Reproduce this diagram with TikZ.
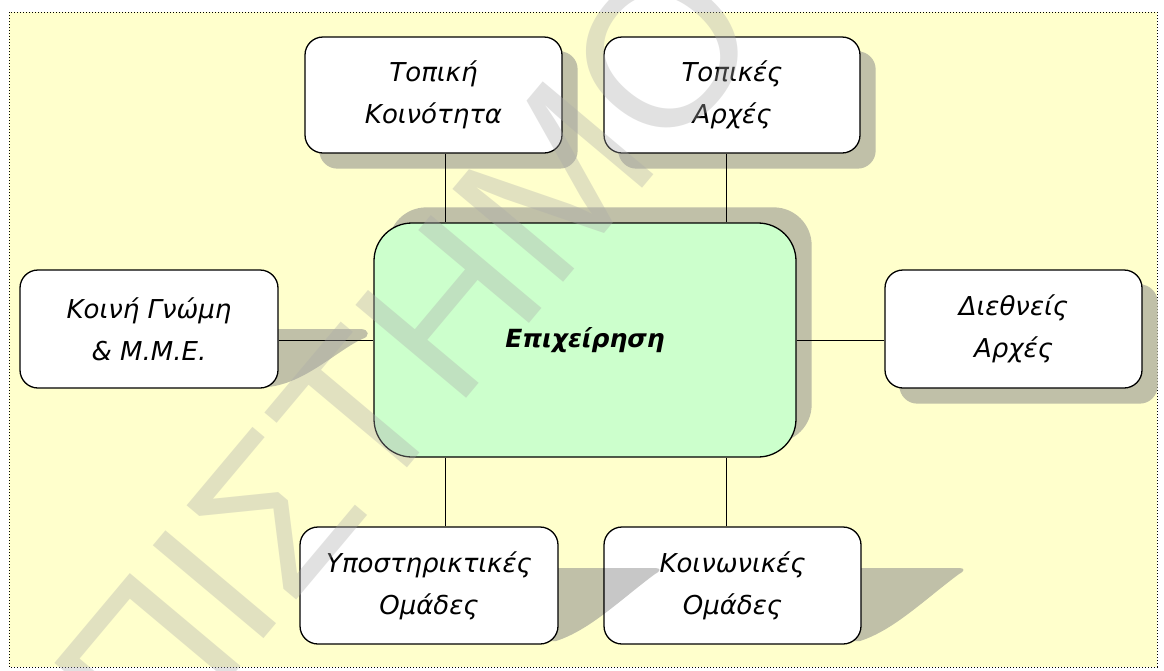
\documentclass[tikz,border=0pt]{standalone}
\usepackage{fontspec}
\setmainfont{DejaVu Sans}
\newfontfamily\wmfont{Liberation Sans}
\usetikzlibrary{backgrounds}
\definecolor{bgyellow}{RGB}{255,255,204}
\definecolor{maingreen}{RGB}{204,255,204}
\definecolor{shadowc}{RGB}{192,192,168}
\definecolor{wmgray}{RGB}{170,170,170}
\begin{document}
\begin{tikzpicture}[x=1pt,y=-1pt,
  box/.style={draw=black, line width=1.3pt, rounded corners=18pt, fill=white,
    align=center, font=\fontsize{26}{42}\selectfont\itshape, inner sep=0pt},
  mainbox/.style={box, fill=maingreen, rounded corners=38pt,
    font=\fontsize{25}{30}\selectfont\bfseries\itshape},
  shade/.style={fill=shadowc},
  link/.style={draw=black, line width=1pt},
  wm/.style={font=\wmfont\fontsize{210}{210}\selectfont,
    text=wmgray, text opacity=0.35}]
\useasboundingbox (0,0) rectangle (1164,670);
\begin{scope}[on background layer]
  \fill[white] (0,0) rectangle (1164,670);
  \draw[dotted, line width=1pt, fill=bgyellow] (9,12) rectangle (1157,667);
\end{scope}

% nodes
\node[mainbox, minimum width=422pt, minimum height=234pt] (main) at (585,340) {Επιχείρηση};
\node[box, minimum width=257pt, minimum height=116pt] (tk) at (433.5,95) {Τοπική\\Κοινότητα};
\node[box, minimum width=256pt, minimum height=116pt] (ta) at (732,95) {Τοπικές\\Αρχές};
\node[box, minimum width=258pt, minimum height=118pt] (lb) at (149,329) {Κοινή Γνώμη\\\& Μ.Μ.Ε.};
\node[box, minimum width=257pt, minimum height=118pt] (rb) at (1013.5,329) {Διεθνείς\\Αρχές};
\node[box, minimum width=258pt, minimum height=117pt] (bl) at (429,585.5) {Υποστηρικτικές\\Ομάδες};
\node[box, minimum width=257pt, minimum height=117pt] (br) at (732.5,585.5) {Κοινωνικές\\Ομάδες};

% shadows
\begin{scope}[on background layer]
  \fill[shade, rounded corners=18pt] ([shift={(15,15)}]tk.north west) rectangle ([shift={(15,15)}]tk.south east);
  \fill[shade, rounded corners=18pt] ([shift={(15,15)}]ta.north west) rectangle ([shift={(15,15)}]ta.south east);
  \fill[shade, rounded corners=18pt] ([shift={(15,15)}]rb.north west) rectangle ([shift={(15,15)}]rb.south east);
  \fill[shade, rounded corners=38pt] ([shift={(15,-15)}]main.north west) rectangle ([shift={(15,-15)}]main.south east);
  \fill[shade] (250,329) -- (360,329) .. controls (370,329) and (370,337) .. (362,339)
     .. controls (335,352) and (305,383) .. (268,387) -- (250,387) -- cycle;
  \fill[shade] (540,568) -- (655,568) .. controls (661,568) and (661,571) .. (655,574)
     .. controls (620,600) and (590,630) .. (556,641) -- (540,641) -- cycle;
  \fill[shade] (844,568) -- (959,568) .. controls (965,568) and (965,571) .. (959,574)
     .. controls (924,600) and (894,630) .. (860,641) -- (844,641) -- cycle;
\end{scope}
% shadow of bl falling over br
\begin{scope}
  \clip[rounded corners=18pt] (br.north west) rectangle (br.south east);
  \fill[black, fill opacity=0.22] (540,568) -- (655,568) .. controls (661,568) and (661,571) .. (655,574)
     .. controls (620,600) and (590,630) .. (556,641) -- (540,641) -- cycle;
\end{scope}

% connectors
\coordinate (cl) at (445.5,0);
\coordinate (cr) at (726,0);
\draw[link] (tk.south -| cl) -- (main.north -| cl);
\draw[link] (ta.south -| cr) -- (main.north -| cr);
\draw[link] (bl.north -| cl) -- (main.south -| cl);
\draw[link] (br.north -| cr) -- (main.south -| cr);
\draw[link] (lb.east |- main.west) -- (main.west);
\draw[link] (main.east) -- (rb.west |- main.east);

% watermark
\begin{scope}
  \clip (0,0) rectangle (1164,670);
  \node[wm, rotate=50] (wmark) at (362,410) {ΕΠΙΣΤΗΜΟ};
\end{scope}
\end{tikzpicture}
\end{document}
